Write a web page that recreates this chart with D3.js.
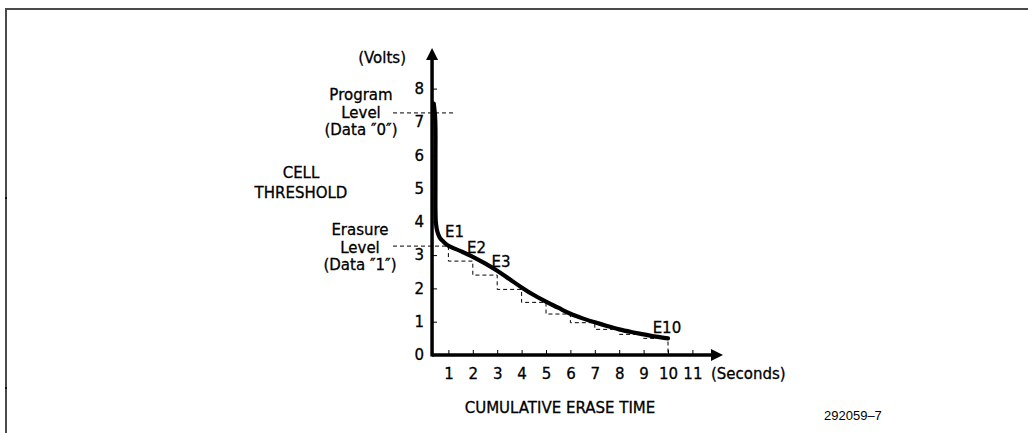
<!DOCTYPE html>
<html>
<head>
<meta charset="utf-8">
<script src="https://cdn.jsdelivr.net/npm/d3@7"></script>
<style>
  body { margin: 0; background: #fff; }
  svg text { font-family: "DejaVu Sans", sans-serif; font-size: 15px; fill: #000; stroke: #000; stroke-width: 0.3px; }
</style>
</head>
<body>
<div id="chart"></div>
<script>
// erase curve: cumulative erase time (s) vs cell threshold (V)
var curveTime  = [0.40, 0.45, 0.47, 0.47, 0.47, 0.47, 0.49, 0.55, 0.65, 0.80, 1.0, 1.5, 2.0, 2.5, 3.0, 3.5, 4.0, 4.5, 5.0, 5.5, 6.0, 6.5, 7.0, 7.5, 8.0, 8.5, 9.0, 9.5, 10.0];
var curveVolts = [7.55, 7.20, 6.80, 6.00, 5.00, 4.40, 3.95, 3.70, 3.52, 3.40, 3.28, 3.12, 2.95, 2.75, 2.53, 2.28, 2.03, 1.80, 1.60, 1.42, 1.24, 1.10, 0.98, 0.87, 0.77, 0.69, 0.62, 0.55, 0.50];

// dashed staircase: level held during each erase pulse k .. k+1
var stepStart  = [1, 2, 3, 4, 5, 6, 7, 8, 9];
var stepLevel  = [2.82, 2.40, 1.97, 1.58, 1.23, 0.97, 0.77, 0.62, 0.50];

var programLevel = 7.27;
var erasureLevel = 3.27;

var xTicks = [1, 2, 3, 4, 5, 6, 7, 8, 9, 10, 11];
var yTicks = [0, 1, 2, 3, 4, 5, 6, 7, 8];

// pulse labels
var pulseLabels = ["E1", "E2", "E3", "E10"];
var pulseTime   = [0.86, 1.76, 2.77, 9.37];
var pulseVolts  = [3.54, 3.06, 2.65, 0.66];

var W = 1028, H = 433;

var svg = d3.select("#chart").append("svg")
    .attr("width", W)
    .attr("height", H);

// frame (top and left edges only)
svg.append("line").attr("x1", 5).attr("x2", W).attr("y1", 9).attr("y2", 9)
    .attr("stroke", "#4a4a4a").attr("stroke-width", 2);
svg.append("line").attr("x1", 6).attr("x2", 6).attr("y1", 8).attr("y2", H)
    .attr("stroke", "#4a4a4a").attr("stroke-width", 2);
[198, 388].forEach(v => {
    svg.append("line").attr("x1", 6).attr("x2", 6).attr("y1", v - 1).attr("y2", v + 1)
        .attr("stroke", "#111").attr("stroke-width", 2);
});

var x = d3.scaleLinear().domain([0, 11]).range([424, 424 + 11 * 24.4]);
var y = d3.scaleLinear().domain([0, 8]).range([355, 355 - 8 * 33.3]);

var axisAt = 0.33; // the vertical axis sits a little right of t = 0
var ax = x(axisAt);

// y axis ticks and labels
var yAxis = svg.append("g")
    .attr("transform", "translate(" + ax + ",0)")
    .call(d3.axisLeft(y).tickValues(yTicks).tickSize(-5).tickPadding(8).tickFormat(d3.format("d")));
yAxis.select(".domain").remove();
yAxis.selectAll("text").style("font-size", "15px").style("font-family", "DejaVu Sans");
yAxis.selectAll(".tick").filter(d => d === 0).select("line").remove();

// x axis ticks and labels
var xAxis = svg.append("g")
    .attr("transform", "translate(0," + y(0) + ")")
    .call(d3.axisBottom(x).tickValues(xTicks).tickSize(-5).tickPadding(13).tickFormat(d3.format("d")));
xAxis.select(".domain").remove();
xAxis.selectAll("text").style("font-size", "15px").style("font-family", "DejaVu Sans");

// thick axis lines with arrow heads
svg.append("line")
    .attr("x1", ax).attr("x2", ax)
    .attr("y1", y(0) + 1.5).attr("y2", 58)
    .attr("stroke", "#000").attr("stroke-width", 3.5);
svg.append("path")
    .attr("d", "M" + ax + ",48 L" + (ax - 6) + ",60 L" + (ax + 6) + ",60 Z")
    .attr("fill", "#000");

svg.append("line")
    .attr("x1", ax).attr("x2", 713)
    .attr("y1", y(0)).attr("y2", y(0))
    .attr("stroke", "#000").attr("stroke-width", 3.5);
svg.append("path")
    .attr("d", "M723," + y(0) + " L711," + (y(0) - 6) + " L711," + (y(0) + 6) + " Z")
    .attr("fill", "#000");

// dashed reference levels
svg.append("line")
    .attr("x1", x(-1.27)).attr("x2", x(1.19))
    .attr("y1", y(programLevel)).attr("y2", y(programLevel))
    .attr("stroke", "#000").attr("stroke-width", 1).attr("stroke-dasharray", "4,3");
svg.append("line")
    .attr("x1", x(-1.27)).attr("x2", x(1))
    .attr("y1", y(erasureLevel)).attr("y2", y(erasureLevel))
    .attr("stroke", "#000").attr("stroke-width", 1).attr("stroke-dasharray", "4,3");

// dashed staircase
var stairs = [[1, erasureLevel]];
stepStart.forEach((s, i) => {
    stairs.push([s, stepLevel[i]]);
    stairs.push([s + 1, stepLevel[i]]);
});
stairs.push([10, 0]);
svg.append("path")
    .datum(stairs)
    .attr("d", d3.line().x(d => x(d[0])).y(d => y(d[1])))
    .attr("fill", "none")
    .attr("stroke", "#000").attr("stroke-width", 1).attr("stroke-dasharray", "4,3");

// erase curve
var pts = curveTime.map((t, i) => [t, curveVolts[i]]);
svg.append("path")
    .datum(pts)
    .attr("d", d3.line().x(d => x(d[0])).y(d => y(d[1])).curve(d3.curveCatmullRom))
    .attr("fill", "none")
    .attr("stroke", "#000")
    .attr("stroke-width", 4.2)
    .attr("stroke-linecap", "round")
    .attr("stroke-linejoin", "round");

// pulse labels
svg.selectAll(".pulse")
    .data(pulseLabels)
    .enter()
    .append("text")
    .attr("class", "pulse")
    .attr("x", (d, i) => x(pulseTime[i]))
    .attr("y", (d, i) => y(pulseVolts[i]))
    .text(d => d);

// annotations
function block(lines, cx, y0, dy) {
    lines.forEach((t, i) => {
        svg.append("text")
            .attr("x", cx).attr("y", y0 + i * dy)
            .attr("text-anchor", "middle")
            .text(t);
    });
}
svg.append("text").attr("x", 406).attr("y", 63).attr("text-anchor", "end").text("(Volts)");
block(["Program", "Level", "(Data \u2033" + "0\u2033)"], 361, 100, 17.5);
block(["CELL", "THRESHOLD"], 301, 178, 20);
block(["Erasure", "Level", "(Data \u2033" + "1\u2033)"], 360, 235, 17.5);

svg.append("text").attr("x", 711).attr("y", 379).text("(Seconds)");
svg.append("text").attr("x", 560).attr("y", 413).attr("text-anchor", "middle").text("CUMULATIVE ERASE TIME");
svg.append("text").attr("x", 824).attr("y", 420)
    .style("font-family", "Liberation Sans, Arial, sans-serif")
    .style("font-size", "13px")
    .style("stroke-width", "0")
    .text("292059\u20137");
</script>
</body>
</html>
